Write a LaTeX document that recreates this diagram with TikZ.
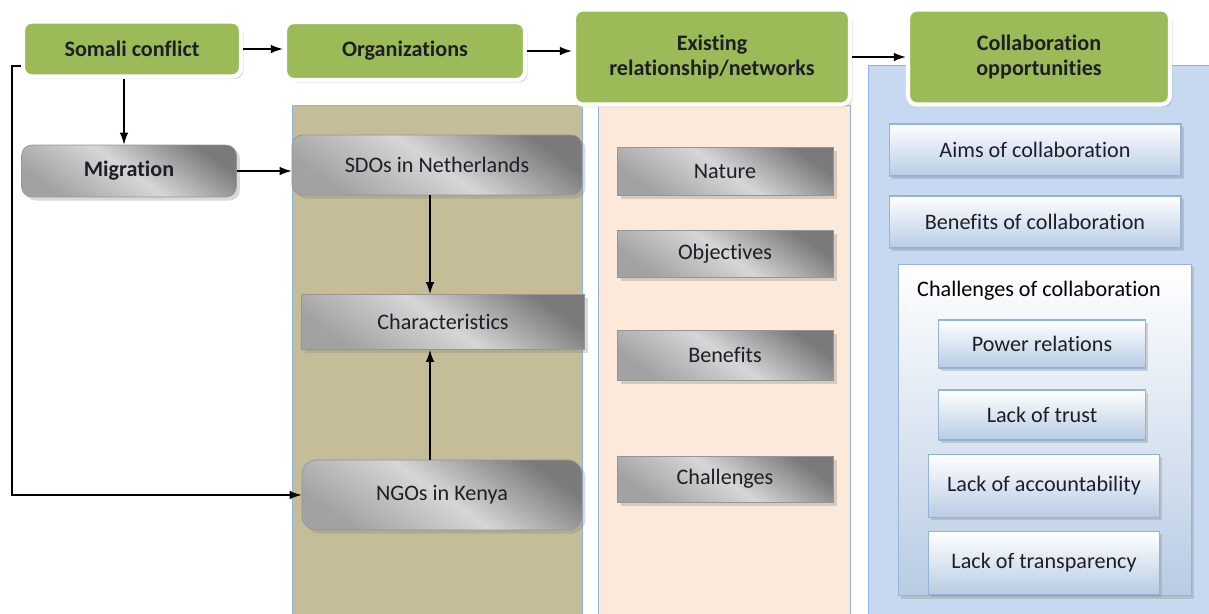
\documentclass[tikz,border=0pt]{standalone}
\usepackage{fontspec}
\setmainfont{Carlito}[Ligatures=CommonOff]
\usetikzlibrary{arrows.meta,positioning,calc,shadows}
\definecolor{Leaf}{HTML}{9BBB59}
\definecolor{Khaki}{HTML}{C4BD97}
\definecolor{Peach}{HTML}{FDE9D9}
\definecolor{Sky}{HTML}{C6D9F1}
\definecolor{Edge}{HTML}{8DB3E2}
\definecolor{BlueBot}{HTML}{B8CCE4}
\definecolor{BlueLine}{HTML}{95B3D7}
\definecolor{GreyDark}{HTML}{7A7A7A}
\definecolor{GreyLight}{HTML}{D6D6D6}
\definecolor{Ink}{HTML}{1E1E28}
\newcommand{\boxfont}{\fontsize{12.6}{14.5}\selectfont}
\tikzset{
  hdr/.style={draw=white,fill=Leaf,line width=2.4pt,rounded corners=5pt,align=center,font=\boxfont\bfseries,text=Ink,
    drop shadow={shadow xshift=1.5pt,shadow yshift=-1.5pt,opacity=.25}},
  panel/.style={draw=Edge,line width=.5pt},
  greybox/.style={draw=GreyDark!80,line width=.4pt,top color=GreyDark,bottom color=GreyDark!70,middle color=GreyLight,shading angle=-35,
    align=center,text=Ink,drop shadow={shadow xshift=2pt,shadow yshift=-2pt,opacity=.3}},
  bluebox/.style={draw=BlueLine,line width=.6pt,top color=white,bottom color=BlueBot,align=center,text=Ink,
    drop shadow={shadow xshift=1.5pt,shadow yshift=-1.5pt,opacity=.3}},
  flow/.style={-{Latex[length=2.4mm,width=1.7mm]},draw=black,line width=.8pt}
}
\begin{document}
\begin{tikzpicture}[x=0.02cm,y=-0.02cm,font=\boxfont]
  \useasboundingbox (0,0) rectangle (1209,614);
  % column panels
  \draw[panel,fill=Khaki] (292,105) rectangle (582,614);
  \draw[panel,fill=Peach] (598,105) rectangle (850,614);
  \draw[panel,fill=Sky] (868,65) rectangle (1215,614);
  % headers
  \node[hdr,minimum width=4.36cm,minimum height=1.1cm] (somali) at (132,49) {Somali conflict};
  \node[hdr,minimum width=4.8cm,minimum height=1.16cm] (org) at (405,51) {Organizations};
  \node[hdr,minimum width=5.52cm,minimum height=1.9cm] (exi) at (712,57) {Existing\\relationship/networks};
  \node[hdr,minimum width=5.24cm,minimum height=1.9cm] (col) at (1039,57) {Collaboration\\opportunities};
  % organizations column
  \node[greybox,rounded corners=6pt,minimum width=4.3cm,minimum height=1.04cm,font=\boxfont\bfseries] (mig) at (129,171) {Migration};
  \node[greybox,rounded corners=6pt,minimum width=5.8cm,minimum height=1.2cm] (sdo) at (437,165) {SDOs in Netherlands};
  \node[greybox,minimum width=5.66cm,minimum height=1.1cm] (chr) at (443,322) {Characteristics};
  \node[greybox,rounded corners=8pt,minimum width=5.6cm,minimum height=1.4cm] (ngo) at (442,495) {NGOs in Kenya};
  % relationship column
  \node[greybox,minimum width=4.32cm,minimum height=.96cm] (nat) at (725,171) {Nature};
  \node[greybox,minimum width=4.32cm,minimum height=.94cm] (obj) at (725,254) {Objectives};
  \node[greybox,minimum width=4.32cm,minimum height=1cm] (ben) at (725,355) {Benefits};
  \node[greybox,minimum width=4.32cm,minimum height=.92cm] (chl) at (725,479) {Challenges};
  % collaboration column
  \node[bluebox,minimum width=5.84cm,minimum height=1.04cm] (aims) at (1035,150) {Aims of collaboration};
  \node[bluebox,minimum width=5.84cm,minimum height=1.04cm] (cben) at (1035,222) {Benefits of collaboration};
  \node[bluebox,minimum width=5.86cm,minimum height=6.64cm] (cchl) at (1045,430) {};
  \node (cchltxt) at (1039,291) {Challenges of collaboration};
  \node[bluebox,minimum width=4.14cm,minimum height=.96cm] (pow) at (1042,344) {Power relations};
  \node[bluebox,minimum width=4.14cm,minimum height=1cm] (trust) at (1042,415) {Lack of trust};
  \node[bluebox,minimum width=4.62cm,minimum height=1.26cm] (acc) at (1044,486) {Lack of accountability};
  \node[bluebox,minimum width=4.62cm,minimum height=1.26cm] (tra) at (1044,563) {Lack of transparency};
  % connectors
  \coordinate (loop) at (12,66);
  \draw[flow] (somali.east) -- (somali.east -| org.west);
  \draw[flow] (org.east) -- (org.east -| exi.west);
  \draw[flow] (exi.east) -- (exi.east -| col.west);
  \draw[flow] (somali.south -| 124,0) -- (mig.north -| 124,0);
  \draw[flow] (mig.east) -- (mig.east -| sdo.west);
  \draw[flow] (sdo.south -| 430,0) -- (chr.north -| 430,0);
  \draw[flow] (ngo.north -| 430,0) -- (chr.south -| 430,0);
  \draw[flow] (somali.west |- loop) -- (loop) |- (ngo.west);
\end{tikzpicture}
\end{document}
